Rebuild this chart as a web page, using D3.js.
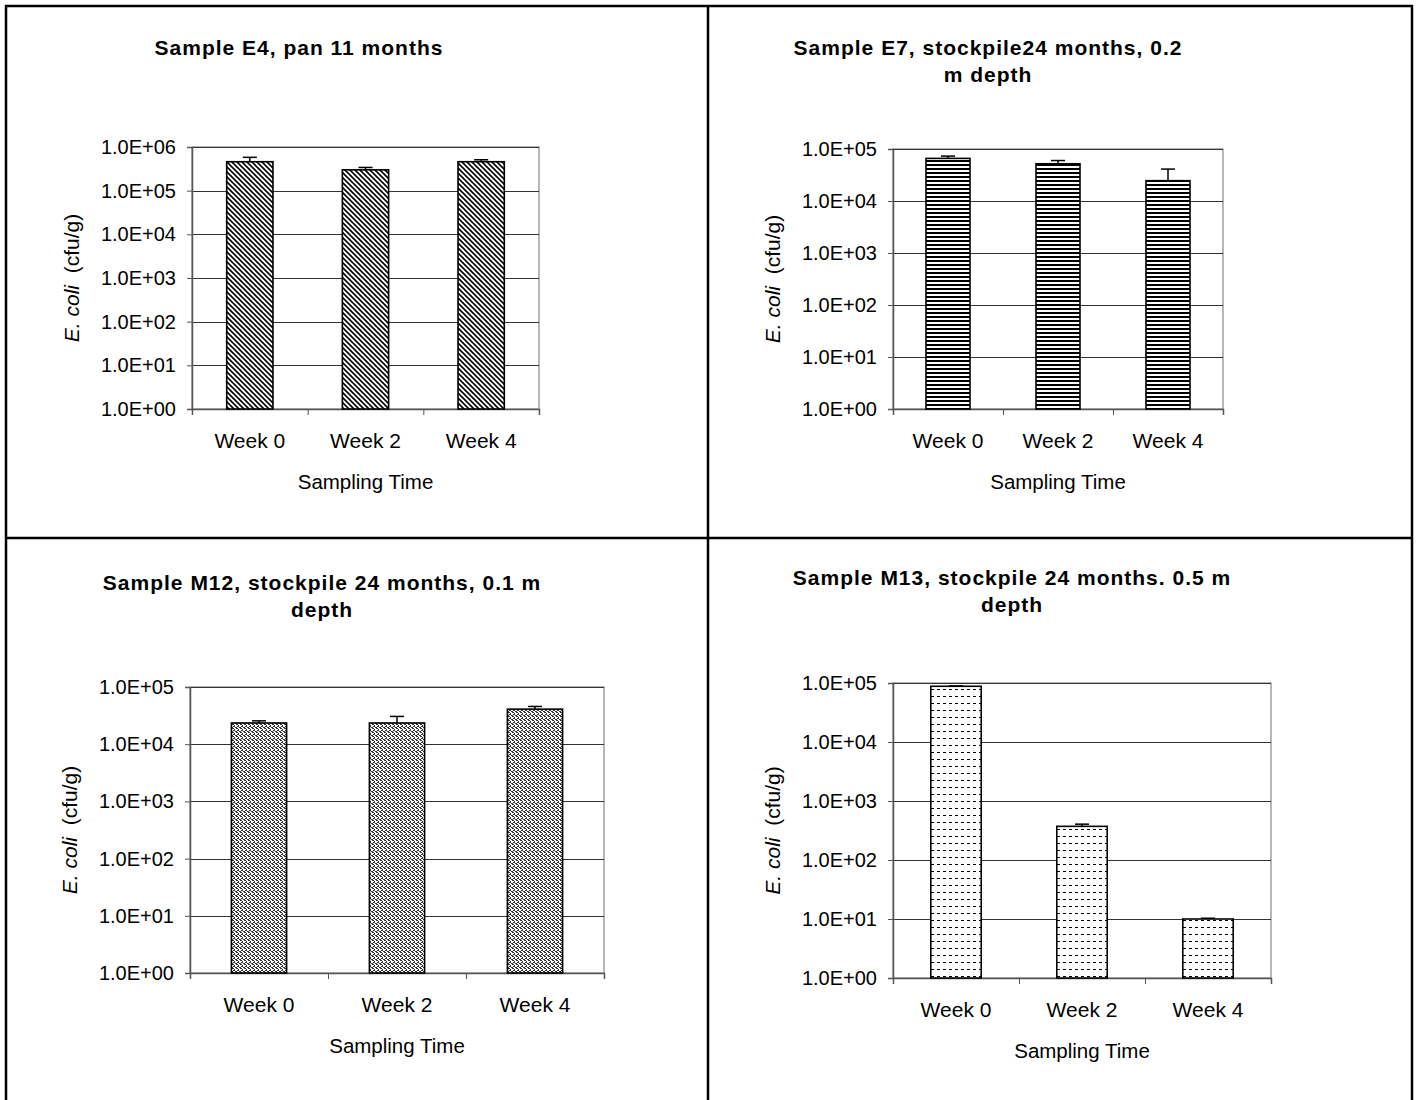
<!DOCTYPE html>
<html>
<head>
<meta charset="utf-8">
<script src="https://cdn.jsdelivr.net/npm/d3@7"></script>
<style>
  body { margin: 0; background: #fff; }
  svg { display: block; font-family: "Liberation Sans", Arial, sans-serif; }
</style>
</head>
<body>
<div id="chart"></div>
<script>
// values
const weeks = ["Week 0", "Week 2", "Week 4"];

const e4Means = [460000, 300000, 460000];
const e4Err = [120000, 40000, 50000];

const e7Means = [66000, 52000, 24600];
const e7Err = [7000, 8000, 16500];

const m12Means = [23500, 23500, 41000];
const m12Err = [2100, 7100, 4700];

const m13Means = [88000, 372, 10];
const m13Err = [1200, 33, 0.3];

const ticksTo6 = [1, 10, 100, 1000, 10000, 100000, 1000000];
const ticksTo5 = [1, 10, 100, 1000, 10000, 100000];

const titleE4 = ["Sample E4, pan 11 months"];
const titleE7 = ["Sample E7, stockpile24 months, 0.2", "m depth"];
const titleM12 = ["Sample M12, stockpile 24 months, 0.1 m", "depth"];
const titleM13 = ["Sample M13, stockpile 24 months. 0.5 m", "depth"];

const width = 1417, height = 1100;

const svg = d3.select("#chart").append("svg")
  .attr("width", width)
  .attr("height", height);

const defs = svg.append("defs");

// diagonal hatch (E4)
const pDiag = defs.append("pattern").attr("id", "pDiag")
  .attr("patternUnits", "userSpaceOnUse").attr("width", 5).attr("height", 5);
pDiag.append("rect").attr("width", 5).attr("height", 5).attr("fill", "#fff");
pDiag.append("path").attr("d", "M-1,-1 L6,6 M-1,4 L1,6 M4,-1 L6,1")
  .attr("stroke", "#000").attr("stroke-width", 1.6);

// horizontal lines (E7)
const pHoriz = defs.append("pattern").attr("id", "pHoriz")
  .attr("patternUnits", "userSpaceOnUse").attr("width", 4).attr("height", 4);
pHoriz.append("rect").attr("width", 4).attr("height", 4).attr("fill", "#fff");
pHoriz.append("rect").attr("y", 0).attr("width", 4).attr("height", 2).attr("fill", "#000");

// stipple (M12)
const pDots = defs.append("pattern").attr("id", "pDots")
  .attr("patternUnits", "userSpaceOnUse").attr("width", 4).attr("height", 4);
pDots.append("rect").attr("width", 4).attr("height", 4).attr("fill", "#fff");
pDots.append("path")
  .attr("d", "M0,0h2v1h-2z M2,1h1v1h-1z M1,2h2v1h-2z M3,3h1v1h-1z M0,3h1v1h-1z")
  .attr("fill", "#333");

// dashed rows (M13)
const pDash = defs.append("pattern").attr("id", "pDash")
  .attr("patternUnits", "userSpaceOnUse").attr("width", 6).attr("height", 7);
pDash.append("rect").attr("width", 6).attr("height", 7).attr("fill", "#fff");
pDash.append("rect").attr("x", 1).attr("y", 3).attr("width", 3).attr("height", 1).attr("fill", "#000");

// outer frame and dividers
svg.append("rect").attr("x", 6).attr("y", 6).attr("width", 1406).attr("height", 1100)
  .attr("fill", "none").attr("stroke", "#000").attr("stroke-width", 2.5);
svg.append("line").attr("x1", 708).attr("x2", 708).attr("y1", 6).attr("y2", 1100)
  .attr("stroke", "#000").attr("stroke-width", 2.5);
svg.append("line").attr("x1", 6).attr("x2", 1412).attr("y1", 538).attr("y2", 538)
  .attr("stroke", "#000").attr("stroke-width", 2.5);

const panels = [
  { title: titleE4, titleX: 299, titleY: 55, means: e4Means, err: e4Err, ticks: ticksTo6, fill: "url(#pDiag)",
    left: 192, right: 539, top: 147, bottom: 409 },
  { title: titleE7, titleX: 988, titleY: 55, means: e7Means, err: e7Err, ticks: ticksTo5, fill: "url(#pHoriz)",
    left: 893, right: 1223, top: 149, bottom: 409 },
  { title: titleM12, titleX: 322, titleY: 590, means: m12Means, err: m12Err, ticks: ticksTo5, fill: "url(#pDots)",
    left: 190, right: 604, top: 687, bottom: 973 },
  { title: titleM13, titleX: 1012, titleY: 585, means: m13Means, err: m13Err, ticks: ticksTo5, fill: "url(#pDash)",
    left: 893, right: 1271, top: 683, bottom: 978 }
];

const fmtTick = d => "1.0E+" + String(Math.round(Math.log10(d))).padStart(2, "0");

panels.forEach(p => {
  const g = svg.append("g");

  // title
  g.append("text")
    .attr("x", p.titleX).attr("y", p.titleY)
    .attr("text-anchor", "middle")
    .style("font-size", "21px").style("font-weight", "bold")
    .style("letter-spacing", "1px")
    .selectAll("tspan").data(p.title).enter().append("tspan")
    .attr("x", p.titleX).attr("dy", (d, i) => i === 0 ? 0 : 27)
    .text(d => d);

  const y = d3.scaleLog()
    .domain([p.ticks[0], p.ticks[p.ticks.length - 1]])
    .range([p.bottom, p.top]);

  const x = d3.scaleBand()
    .domain(weeks)
    .range([p.left, p.right])
    .paddingInner(0.6)
    .paddingOuter(0.3);

  // plot area border
  g.append("rect")
    .attr("x", p.left).attr("y", p.top)
    .attr("width", p.right - p.left).attr("height", p.bottom - p.top)
    .attr("fill", "#fff").attr("stroke", "#888").attr("stroke-width", 1.2);

  // gridlines
  g.append("g").selectAll("line")
    .data(p.ticks.slice(1))
    .enter().append("line")
    .attr("x1", p.left).attr("x2", p.right)
    .attr("y1", d => Math.round(y(d)) + 0.5).attr("y2", d => Math.round(y(d)) + 0.5)
    .attr("stroke", "#333").attr("stroke-width", 1);

  // y axis
  const yAxis = g.append("g")
    .attr("transform", `translate(${p.left},0)`)
    .call(d3.axisLeft(y).tickValues(p.ticks).tickFormat(fmtTick).tickSize(5).tickPadding(11));
  yAxis.select(".domain").attr("stroke", "#555").attr("stroke-width", 1.5);
  yAxis.selectAll(".tick line").attr("stroke", "#555");
  yAxis.selectAll("text").style("font-size", "20px").attr("fill", "#000");

  // x axis: boundary ticks
  const xb = d3.scaleLinear().domain([0, weeks.length]).range([p.left, p.right]);
  const xAxisTicks = g.append("g")
    .attr("transform", `translate(0,${p.bottom})`)
    .call(d3.axisBottom(xb).tickValues(d3.range(weeks.length + 1)).tickFormat("").tickSize(6));
  xAxisTicks.select(".domain").attr("stroke", "#555").attr("stroke-width", 1.5);
  xAxisTicks.selectAll(".tick line").attr("stroke", "#555");

  // x axis: category labels
  const xAxisLabels = g.append("g")
    .attr("transform", `translate(0,${p.bottom})`)
    .call(d3.axisBottom(x).tickSize(0).tickPadding(24));
  xAxisLabels.select(".domain").remove();
  xAxisLabels.selectAll("text").style("font-size", "21px").attr("fill", "#000");

  // bars
  g.append("g").selectAll("rect")
    .data(p.means)
    .enter().append("rect")
    .attr("x", (d, i) => x(weeks[i]))
    .attr("width", x.bandwidth())
    .attr("y", d => y(d))
    .attr("height", d => p.bottom - y(d))
    .attr("fill", p.fill)
    .attr("stroke", "#000").attr("stroke-width", 1.6);

  // upper error bars
  const eb = g.append("g").selectAll("g")
    .data(p.means)
    .enter().append("g");
  eb.append("line")
    .attr("x1", (d, i) => x(weeks[i]) + x.bandwidth() / 2)
    .attr("x2", (d, i) => x(weeks[i]) + x.bandwidth() / 2)
    .attr("y1", d => y(d))
    .attr("y2", (d, i) => y(d + p.err[i]))
    .attr("stroke", "#000").attr("stroke-width", 1.5);
  eb.append("line")
    .attr("x1", (d, i) => x(weeks[i]) + x.bandwidth() / 2 - 7)
    .attr("x2", (d, i) => x(weeks[i]) + x.bandwidth() / 2 + 7)
    .attr("y1", (d, i) => y(d + p.err[i]))
    .attr("y2", (d, i) => y(d + p.err[i]))
    .attr("stroke", "#000").attr("stroke-width", 1.5);

  // axis titles
  g.append("text")
    .attr("x", (p.left + p.right) / 2).attr("y", p.bottom + 80)
    .attr("text-anchor", "middle")
    .style("font-size", "20.5px")
    .text("Sampling Time");

  const yt = g.append("text")
    .attr("transform", `translate(${p.left - 113},${(p.top + p.bottom) / 2}) rotate(-90)`)
    .attr("text-anchor", "middle")
    .style("font-size", "21px");
  yt.append("tspan").style("font-style", "italic").text("E. coli");
  yt.append("tspan").text("\u00a0\u00a0(cfu/g)");
});
</script>
</body>
</html>
